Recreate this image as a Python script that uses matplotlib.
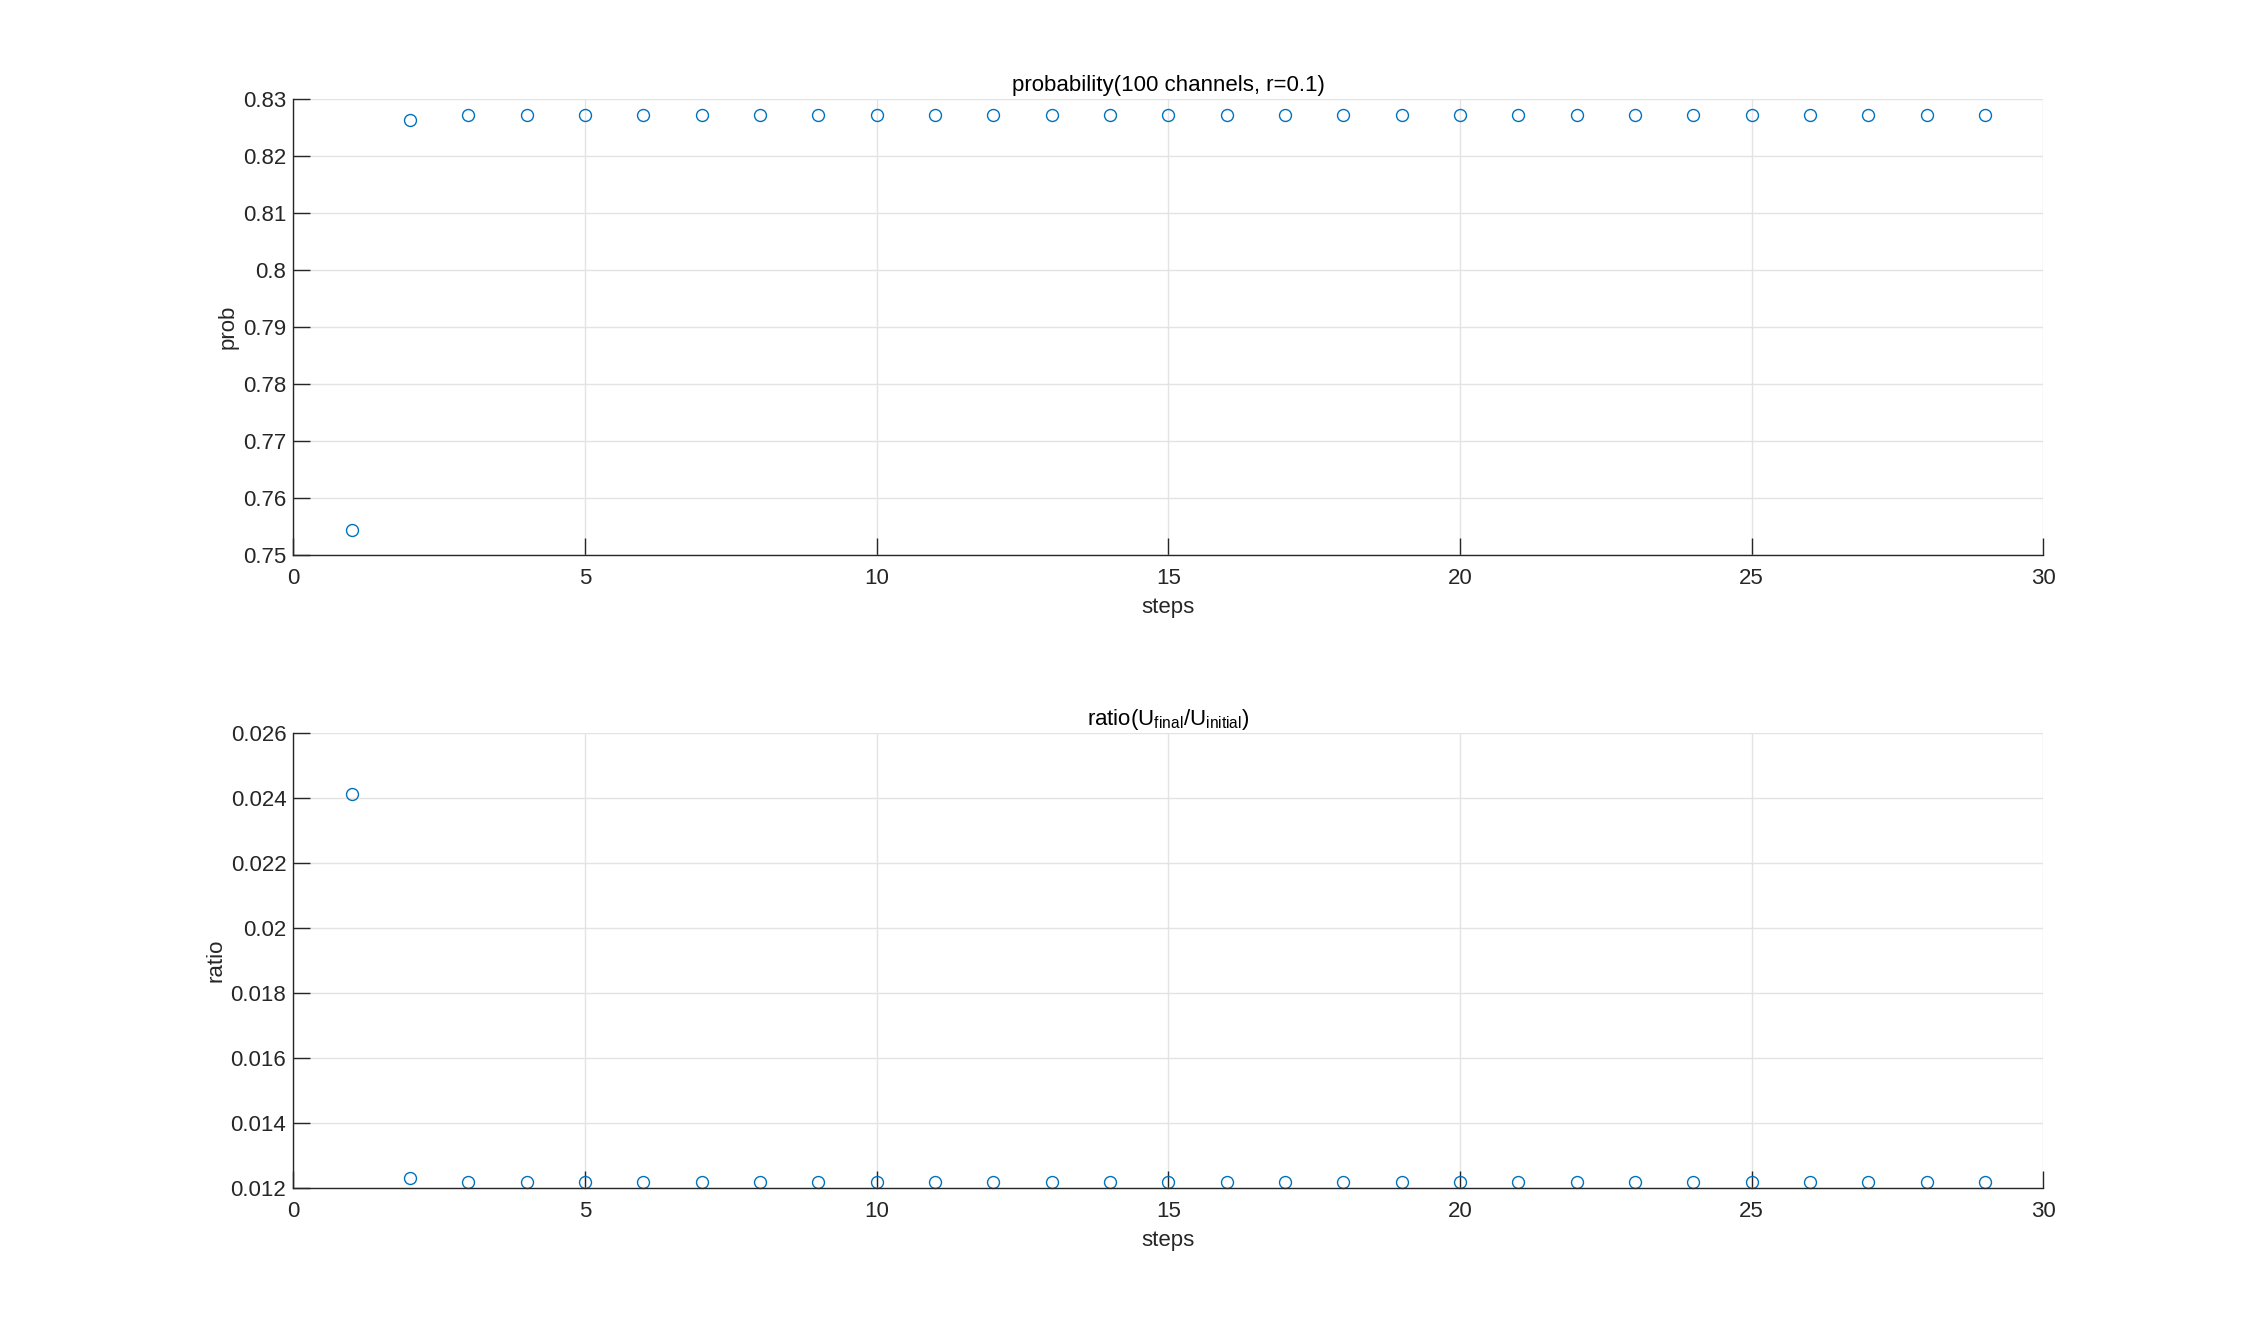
import matplotlib
matplotlib.use("Agg")
import matplotlib.pyplot as plt
import numpy as np

steps = list(range(1, 30))
prob = [0.7544, 0.8263] + [0.8272] * 27
ratio = [0.02412, 0.01232] + [0.01220] * 27

x_ticks = [0, 5, 10, 15, 20, 25, 30]
prob_ticks = [0.75, 0.76, 0.77, 0.78, 0.79, 0.80, 0.81, 0.82, 0.83]
prob_labels = ["0.75", "0.76", "0.77", "0.78", "0.79", "0.8", "0.81", "0.82", "0.83"]
ratio_ticks = [0.012, 0.014, 0.016, 0.018, 0.020, 0.022, 0.024, 0.026]
ratio_labels = ["0.012", "0.014", "0.016", "0.018", "0.02", "0.022", "0.024", "0.026"]

plt.rcParams['font.family'] = ['Liberation Sans', 'DejaVu Sans']
plt.rcParams['mathtext.fontset'] = 'custom'
plt.rcParams['mathtext.rm'] = 'Liberation Sans'
plt.rcParams['mathtext.it'] = 'Liberation Sans'

fig = plt.figure(figsize=(22.56, 13.36), dpi=100)
ax1 = fig.add_axes([0.130, 0.5844, 0.7757, 0.3413])
ax2 = fig.add_axes([0.130, 0.1106, 0.7757, 0.3406])

blue = '#0072BD'
fs = 16

def style(ax, yticks, ylabels, ylim, ylabel, title):
    ax.set_xlim(0, 30)
    ax.set_ylim(*ylim)
    ax.set_xticks(x_ticks)
    ax.set_yticks(yticks)
    ax.set_yticklabels(ylabels)
    ax.grid(True, color='#e3e3e3', linewidth=1.0)
    ax.set_axisbelow(True)
    for s in ['top', 'right']:
        ax.spines[s].set_visible(False)
    for s in ['left', 'bottom']:
        ax.spines[s].set_color('#262626')
        ax.spines[s].set_linewidth(1.0)
    ax.tick_params(direction='in', length=12, width=1.0, colors='#262626',
                   labelsize=fs, labelcolor='#262626')
    ax.tick_params(axis='x', pad=9)
    ax.tick_params(axis='y', pad=5)
    ax.set_xlabel('steps', fontsize=fs, color='#262626', labelpad=6)
    ax.set_ylabel(ylabel, fontsize=fs, color='#262626', labelpad=3)
    ax.set_title(title, fontsize=fs, color='#000000', pad=6)

ax1.plot(steps, prob, linestyle='none', marker='o', markersize=8.6,
         markerfacecolor='none', markeredgecolor=blue, markeredgewidth=1.0,
         clip_on=False)
style(ax1, prob_ticks, prob_labels, (0.75, 0.83), 'prob',
      'probability(100 channels, r=0.1)')

ax2.plot(steps, ratio, linestyle='none', marker='o', markersize=8.6,
         markerfacecolor='none', markeredgecolor=blue, markeredgewidth=1.0,
         clip_on=False)
style(ax2, ratio_ticks, ratio_labels, (0.012, 0.026), 'ratio',
      r'ratio(U$_{\mathrm{final}}$/U$_{\mathrm{initial}}$)')

fig.savefig('out.png', dpi=100, facecolor='white')
